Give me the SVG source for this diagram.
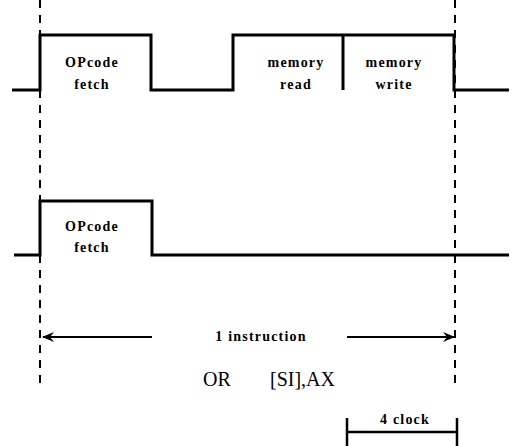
<svg xmlns="http://www.w3.org/2000/svg" width="514" height="446" viewBox="0 0 514 446">
<style>
.wave{fill:none;stroke:#000;stroke-width:3;stroke-linejoin:miter}
.dash{fill:none;stroke:#000;stroke-width:2;stroke-dasharray:8 7}
.lbl{font-family:"Liberation Serif",serif;font-weight:bold;font-size:14px;letter-spacing:1.2px;text-anchor:middle;fill:#000}
.big{font-family:"Liberation Serif",serif;font-size:20px;fill:#000}
.ln{fill:none;stroke:#000;stroke-width:2}
</style>
<defs>
<marker id="ah" viewBox="0 0 12 10" refX="11" refY="5" markerWidth="12" markerHeight="10" markerUnits="userSpaceOnUse" orient="auto">
<path d="M0,0 L12,5 L0,10 L4,5 Z" fill="#000"/>
</marker>
</defs>
<g id="connectors">
<path class="dash" d="M40,0 V390"/>
<path class="dash" d="M455,0 V390"/>
<path class="ln" d="M152,337 H43" marker-end="url(#ah)"/>
<path class="ln" d="M347,337 H454" marker-end="url(#ah)"/>
<path class="ln" d="M347,432 H457 M347,418 V446 M457,418 V446" style="stroke-width:2.5"/>
</g>
<g id="wave-top">
<path class="wave" d="M12,90 H40 V35 H151 V90 H233 V35 H454 V90 H509"/>
<path class="wave" d="M343,35 V90"/>
</g>
<g id="node-opcode-top">
<text class="lbl" x="92" y="67">OPcode</text>
<text class="lbl" x="92" y="89">fetch</text>
</g>
<g id="node-memread">
<text class="lbl" x="296" y="67">memory</text>
<text class="lbl" x="296" y="89">read</text>
</g>
<g id="node-memwrite">
<text class="lbl" x="394" y="67">memory</text>
<text class="lbl" x="394" y="89">write</text>
</g>
<g id="wave-bottom">
<path class="wave" d="M14,255 H40 V201 H152 V255 H509"/>
</g>
<g id="node-opcode-bottom">
<text class="lbl" x="92" y="231">OPcode</text>
<text class="lbl" x="92" y="252">fetch</text>
</g>
<g id="labels">
<text class="lbl" x="261" y="341">1 instruction</text>
<text class="big" x="203" y="386">OR</text>
<text class="big" x="270" y="386">[SI],AX</text>
<text class="lbl" x="405" y="424">4 clock</text>
</g>
</svg>
